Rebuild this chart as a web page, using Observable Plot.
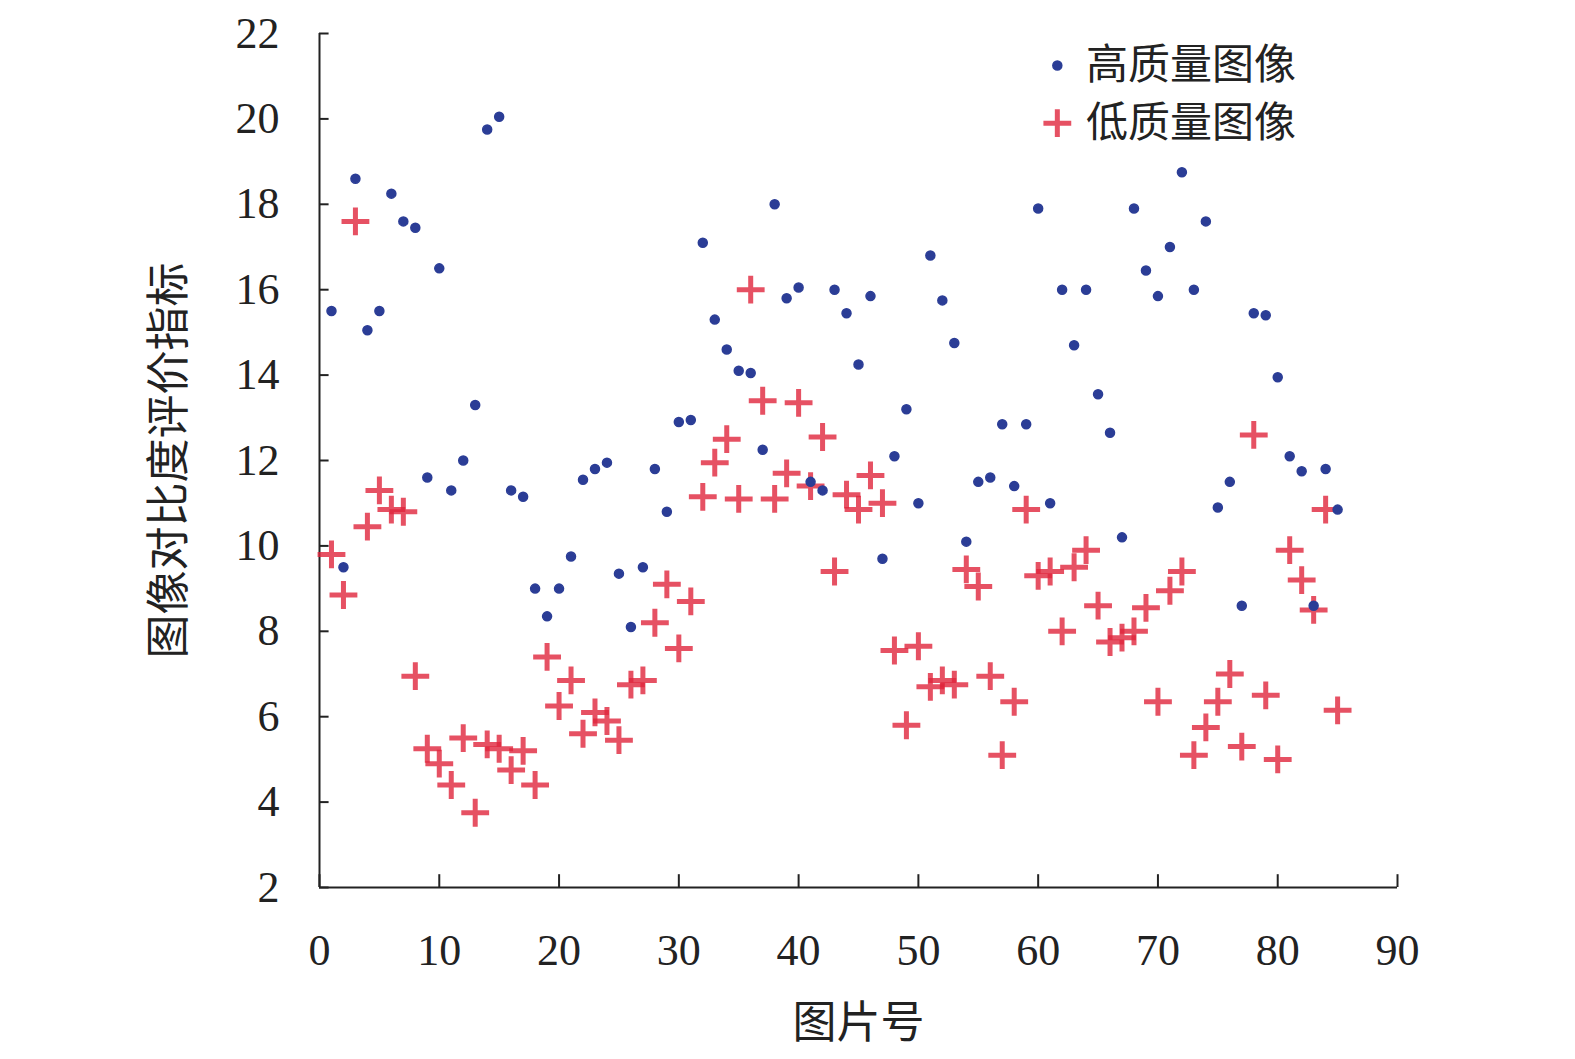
<!DOCTYPE html>
<html><head><meta charset="utf-8">
<script src="https://cdn.jsdelivr.net/npm/d3@7"></script>
<script src="https://cdn.jsdelivr.net/npm/@observablehq/plot@0.6"></script>
<style>body{margin:0;background:#fff}</style>
</head><body><div id="c"></div>
<script>
const high = [15.5,9.5,18.6,15.05,15.5,18.25,17.6,17.45,11.6,16.5,11.3,12.0,13.3,19.75,20.05,11.3,11.15,9.0,8.35,9.0,9.75,11.55,11.8,11.95,9.35,8.1,9.5,11.8,10.8,12.9,12.95,17.1,15.3,14.6,14.1,14.05,12.25,18.0,15.8,16.05,11.5,11.3,16.0,15.45,14.25,15.85,9.7,12.1,13.2,11.0,16.8,15.75,14.75,10.1,11.5,11.6,12.85,11.4,12.85,17.9,11.0,16.0,14.7,16.0,13.55,12.65,10.2,17.9,16.45,15.85,17.0,18.75,16.0,17.6,10.9,11.5,8.6,15.45,15.4,13.95,12.1,11.75,8.6,11.8,10.85];
const low = [9.8,8.85,17.6,10.45,11.3,10.85,10.8,6.95,5.25,4.9,4.4,5.5,3.75,5.35,5.25,4.75,5.2,4.4,7.4,6.25,6.85,5.6,6.1,5.9,5.45,6.75,6.85,8.2,9.1,7.6,8.7,11.15,11.95,12.5,11.1,16.0,13.4,11.1,11.7,13.35,11.4,12.55,9.4,11.2,10.85,11.65,11.0,7.55,5.8,7.65,6.7,6.85,6.75,9.45,9.05,6.95,5.1,6.35,10.85,9.3,9.4,8.0,9.5,9.9,8.6,7.75,7.85,8.0,8.55,6.35,8.95,9.4,5.1,5.75,6.35,7.0,5.3,12.6,6.5,5.0,9.9,9.2,8.5,10.85,6.15];
const xTicks = [0,10,20,30,40,50,60,70,80,90];
const yTicks = [2,4,6,8,10,12,14,16,18,20,22];
const legendLabels = ["高质量图像","低质量图像"];
const hi = high.map((v,i)=>({x:i+1,y:v}));
const lo = low.map((v,i)=>({x:i+1,y:v}));
const blue="#2b3d96", red="#e0263c";
const chart = Plot.plot({
  width:1575,height:1059,marginLeft:319,marginRight:178,marginTop:33,marginBottom:172,
  style:{fontFamily:"'Liberation Serif','Noto Sans CJK SC',serif",fontSize:"44px",color:"#222",background:"#fff"},
  x:{domain:[0,90],label:null},
  y:{domain:[2,22],label:null},
  marks:[
    Plot.axisX({ticks:xTicks,tickSize:0,tickPadding:46,fontSize:44}),
    Plot.axisY({ticks:yTicks,tickSize:0,tickPadding:40,fontSize:44}),
    Plot.ruleX(xTicks,{y1:2,y2:2.3,strokeWidth:2}),
    Plot.ruleY(yTicks,{x1:0,x2:0.8,strokeWidth:2}),
    Plot.ruleX([0],{strokeWidth:2}),
    Plot.ruleY([2],{strokeWidth:2}),
    Plot.dot(lo,{x:"x",y:"y",symbol:"plus",r:9,stroke:red,strokeWidth:5,strokeOpacity:0.8}),
    Plot.dot(hi,{x:"x",y:"y",r:4.5,fill:blue,stroke:blue,strokeWidth:1.5}),
    Plot.dot([{x:61.6,y:21.25}],{x:"x",y:"y",r:4.5,fill:blue,stroke:blue,strokeWidth:1.5}),
    Plot.dot([{x:61.6,y:19.9}],{x:"x",y:"y",symbol:"plus",r:9,stroke:red,strokeWidth:5,strokeOpacity:0.8}),
    Plot.text([{x:64,y:21.25,t:legendLabels[0]},{x:64,y:19.9,t:legendLabels[1]}],{x:"x",y:"y",text:"t",textAnchor:"start",fontSize:42,fontFamily:"'Noto Sans CJK SC'",fill:"#222"}),
    Plot.text(["图片号"],{frameAnchor:"bottom",dy:150,fontSize:44,fontFamily:"'Noto Sans CJK SC'",fill:"#222"}),
    Plot.text(["图像对比度评价指标"],{frameAnchor:"left",dx:-150,rotate:-90,textAnchor:"middle",fontSize:44,fontFamily:"'Noto Sans CJK SC'",fill:"#222"})
  ]
});
document.getElementById("c").appendChild(chart);
</script></body></html>
